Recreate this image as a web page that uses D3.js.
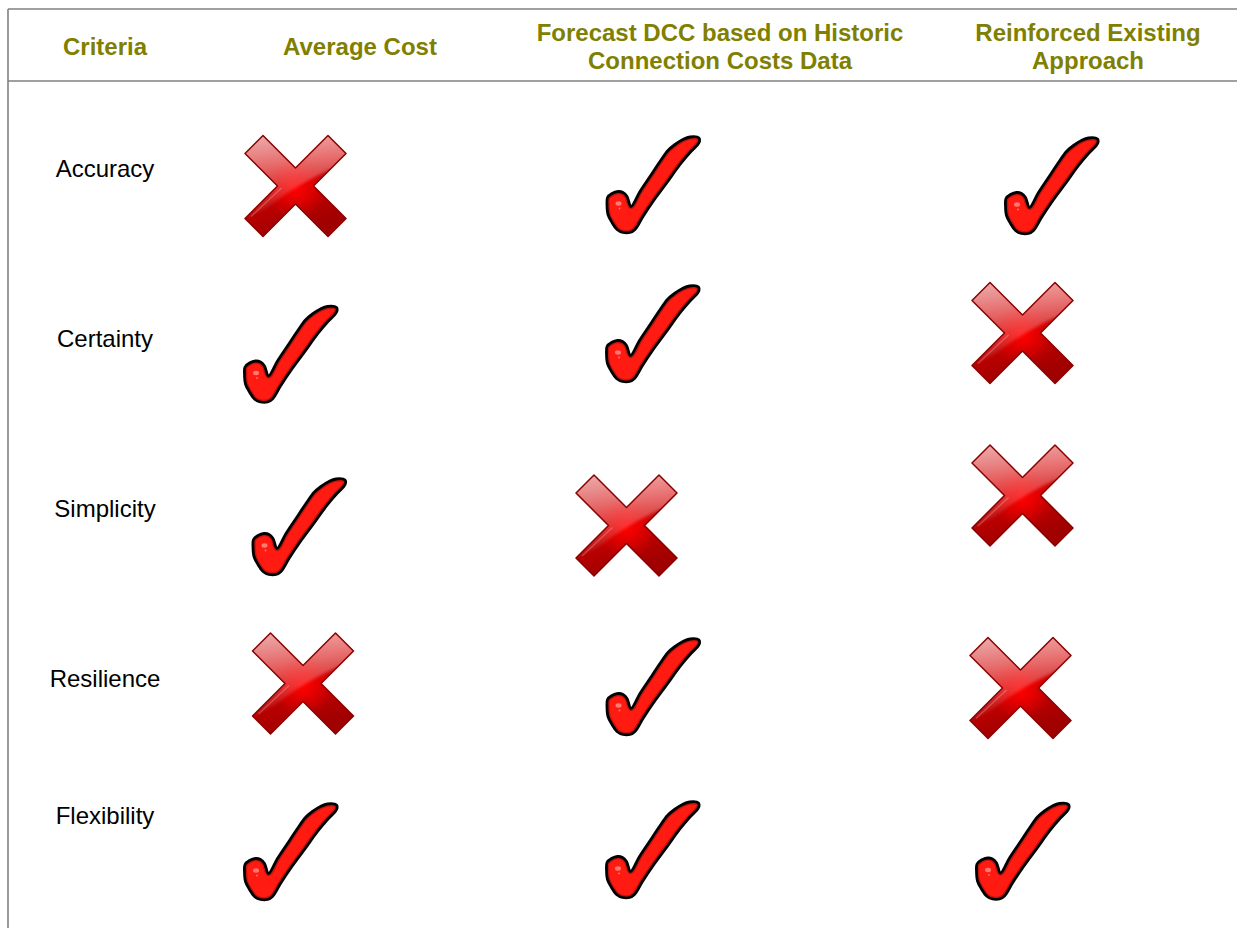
<!DOCTYPE html>
<html>
<head>
<meta charset="utf-8">
<script src="https://cdn.jsdelivr.net/npm/d3@7"></script>
<style>
  body { margin: 0; background: #fff; }
  text { font-family: Arial, "Liberation Sans", sans-serif; }
</style>
</head>
<body>
<svg id="chart"></svg>
<script>
//*************** data ******************//

// criteria (rows) and approaches (columns)
var criteria = ["Accuracy", "Certainty", "Simplicity", "Resilience", "Flexibility"];
var approaches = ["Average Cost", "Forecast DCC based on Historic Connection Costs Data", "Reinforced Existing Approach"];

// header labels, as they wrap in the table
var headerLines = [
  ["Criteria"],
  ["Average Cost"],
  ["Forecast DCC based on Historic", "Connection Costs Data"],
  ["Reinforced Existing", "Approach"]
];

// true = tick (meets criterion), false = cross
var averageCost = [false, true, true, false, true];
var forecastDcc = [true, true, false, true, true];
var reinforced  = [true, false, false, false, true];

//*************** layout ******************//

var width = 1237, height = 928;
var lineColor = "#808080", headColor = "#808000";

var svg = d3.select("svg#chart")
  .attr("width", width)
  .attr("height", height);

// column / row positions
var headerX = d3.scaleOrdinal()
  .domain(["Criteria"].concat(approaches))
  .range([105, 360, 720, 1088]);
var iconX = d3.scaleOrdinal().domain(approaches).range([297, 653, 1022]);
var rowY = d3.scaleOrdinal().domain(criteria).range([177, 347, 517, 687, 824]);

// the icons in the source sit a bit off-grid; small per-cell nudges [dx, dy]
var iconNudge = [
  [[-1.5, 9.5], [0.5, 8], [30, 9]],
  [[-6, 7.5], [0, -13], [0.5, -13.5]],
  [[2.5, 10], [-26.5, 9], [0.5, -21]],
  [[6, -3], [0.5, 0], [-1.5, 1.5]],
  [[-6, 28], [0, 26], [1, 27.5]]
];

//--------------- table rules
svg.append("line").attr("x1", 8).attr("x2", width).attr("y1", 9).attr("y2", 9)
  .attr("stroke", lineColor).attr("stroke-width", 1.6);
svg.append("line").attr("x1", 8).attr("x2", width).attr("y1", 81).attr("y2", 81)
  .attr("stroke", lineColor).attr("stroke-width", 1.6);
svg.append("line").attr("x1", 8).attr("x2", 8).attr("y1", 9).attr("y2", height)
  .attr("stroke", lineColor).attr("stroke-width", 1.6);

//--------------- header
var head = svg.append("g").attr("class", "header");
headerX.domain().forEach(function(key, i) {
  var lines = headerLines[i];
  var t = head.append("text")
    .attr("text-anchor", "middle")
    .attr("font-size", "24px")
    .attr("font-weight", "bold")
    .attr("fill", headColor);
  lines.forEach(function(s, j) {
    var y = lines.length == 1 ? 54.5 : 40.5 + j * 28;
    t.append("tspan").attr("x", headerX(key)).attr("y", y).text(s);
  });
});

//--------------- row labels
svg.append("g").attr("class", "row-labels")
  .selectAll("text")
  .data(criteria)
  .enter().append("text")
  .attr("x", 105)
  .attr("y", function(d) { return rowY(d); })
  .attr("text-anchor", "middle")
  .attr("font-size", "24px")
  .attr("fill", "#000")
  .text(function(d) { return d; });

//*************** icon shapes ******************//

var defs = svg.append("defs");

// cross: 101 x 102 box, arm ends cut at 45 deg
var cs = 101, ca = 18, cc = cs / 2;
var crossPts = [
  [0, ca], [ca, 0], [cc, cc - ca], [cs - ca, 0], [cs, ca], [cc + ca, cc],
  [cs, cs - ca], [cs - ca, cs], [cc, cc + ca], [ca, cs], [0, cs - ca], [cc - ca, cc]
];
var crossD = "M" + crossPts.map(function(p) { return p.join(","); }).join("L") + "Z";

var g1 = defs.append("linearGradient").attr("id", "xBase")
  .attr("x1", 0).attr("y1", 0).attr("x2", 0.25).attr("y2", 1);
g1.append("stop").attr("offset", 0).attr("stop-color", "#d96464");
g1.append("stop").attr("offset", 0.38).attr("stop-color", "#dc2020");
g1.append("stop").attr("offset", 0.6).attr("stop-color", "#c80000");
g1.append("stop").attr("offset", 1).attr("stop-color", "#a00000");

var g2 = defs.append("radialGradient").attr("id", "xGlow")
  .attr("cx", 0.5).attr("cy", 0.52).attr("r", 0.3);
g2.append("stop").attr("offset", 0).attr("stop-color", "#ff0000").attr("stop-opacity", 1);
g2.append("stop").attr("offset", 1).attr("stop-color", "#ff0000").attr("stop-opacity", 0);

var g3 = defs.append("linearGradient").attr("id", "xGloss")
  .attr("x1", 0).attr("y1", 0).attr("x2", 0).attr("y2", 1);
g3.append("stop").attr("offset", 0).attr("stop-color", "#fff").attr("stop-opacity", 0.5);
g3.append("stop").attr("offset", 0.6).attr("stop-color", "#fff").attr("stop-opacity", 0.2);
g3.append("stop").attr("offset", 1).attr("stop-color", "#fff").attr("stop-opacity", 0.02);

defs.append("filter").attr("id", "soft")
  .append("feGaussianBlur").attr("stdDeviation", 1.6);

defs.append("clipPath").attr("id", "xClip").append("path").attr("d", crossD);

// tick: 93 x 97 box, outline traced from the source
var tickPts = [
  [92, 1.5], [92.5, 5], [90, 9], [83, 16], [73, 28], [60, 46], [46, 65], [36, 80],
  [28, 93], [23, 96], [16, 96], [10, 93], [5, 86], [1, 78], [0, 68], [0.5, 61],
  [5, 57], [11, 55], [16, 56], [20, 60], [24, 70], [33, 55], [43, 40], [53, 25],
  [61, 14], [68, 8], [76, 3], [83, 0.5]
];
var tickD = d3.line().curve(d3.curveCatmullRomClosed.alpha(0.5))(tickPts);
defs.append("clipPath").attr("id", "tClip").append("path").attr("d", tickD);

function drawCross(g) {
  g.append("path").attr("d", crossD).attr("fill", "url(#xBase)");
  g.append("path").attr("d", crossD).attr("fill", "url(#xGlow)");
  g.append("g").attr("clip-path", "url(#xClip)")
    .append("path")
    .attr("d", "M-5,-5H" + (cs + 5) + "V26Q64,40 22,72L-5,86Z")
    .attr("fill", "url(#xGloss)")
    .attr("filter", "url(#soft)");
  g.append("path")
    .attr("d", "M6," + (cs - ca - 2) + "L" + (cc - ca + 4) + "," + (cc + 2))
    .attr("stroke", "#fff").attr("stroke-opacity", 0.22).attr("stroke-width", 1.5)
    .attr("clip-path", "url(#xClip)");
  g.append("path").attr("d", crossD)
    .attr("fill", "none")
    .attr("stroke", "#880000")
    .attr("stroke-width", 1.5)
    .attr("stroke-linejoin", "round");
}

function drawTick(g) {
  g.append("path").attr("d", tickD).attr("fill", "#ff1b12");
  g.append("path").attr("d", tickD)
    .attr("fill", "none").attr("stroke", "#c4140c").attr("stroke-width", 5.5)
    .attr("clip-path", "url(#tClip)");
  g.append("path").attr("d", tickD)
    .attr("fill", "none").attr("stroke", "#000").attr("stroke-width", 2.8)
    .attr("stroke-linejoin", "round");
  g.append("ellipse").attr("cx", 11.5).attr("cy", 67).attr("rx", 3).attr("ry", 2.2)
    .attr("fill", "#ff7a70");
  g.append("circle").attr("cx", 12.5).attr("cy", 72).attr("r", 0.9)
    .attr("fill", "#ff7a70");
}

//*************** draw cells ******************//

var columns = [averageCost, forecastDcc, reinforced];
var cells = [];
criteria.forEach(function(c, r) {
  approaches.forEach(function(a, k) {
    cells.push({ criterion: c, approach: a, ok: columns[k][r], nudge: iconNudge[r][k] });
  });
});

svg.append("g").attr("class", "icons")
  .selectAll("g")
  .data(cells)
  .enter().append("g")
  .attr("transform", function(d) {
    var cx = iconX(d.approach) + d.nudge[0];
    var cy = rowY(d.criterion) + d.nudge[1];
    return d.ok
      ? "translate(" + (cx - 46.5) + "," + (cy - 48.5) + ")"
      : "translate(" + (cx - 50.5) + "," + (cy - 51) + ")";
  })
  .each(function(d) {
    if (d.ok) drawTick(d3.select(this));
    else drawCross(d3.select(this));
  });
</script>
</body>
</html>
